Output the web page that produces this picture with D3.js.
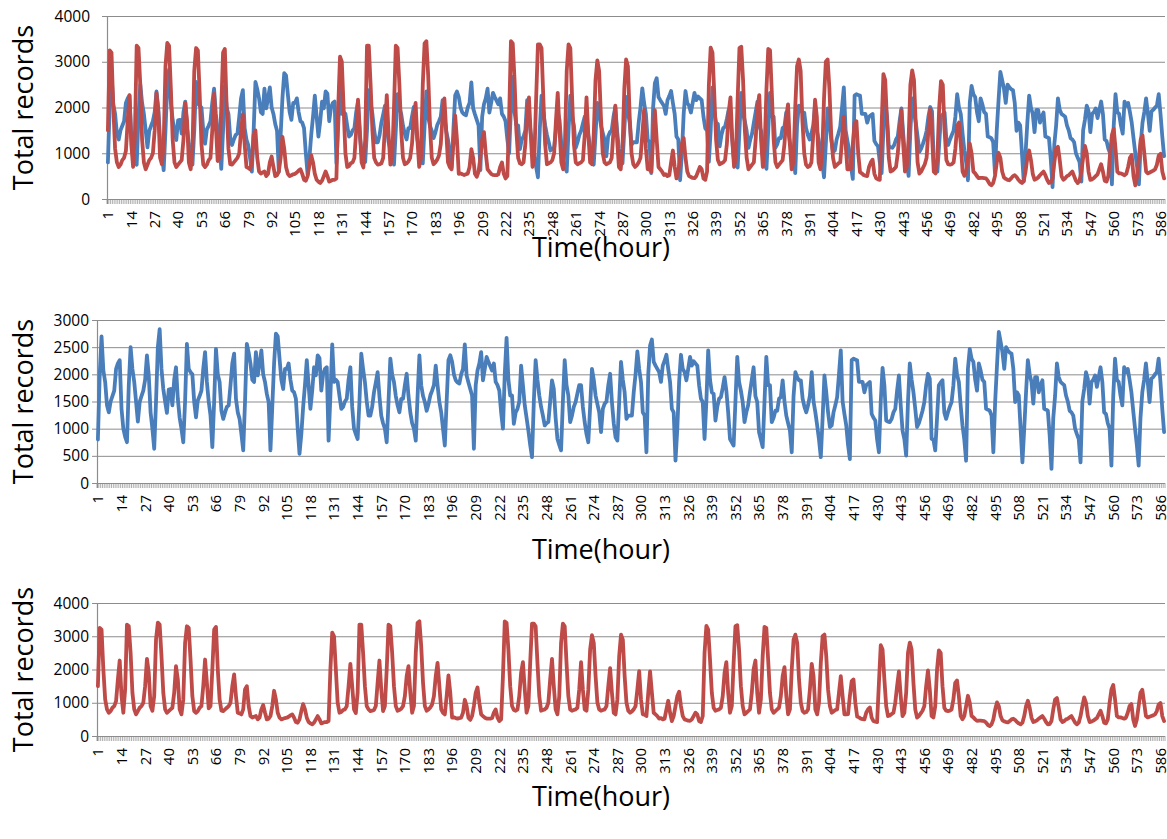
<!DOCTYPE html>
<html>
<head>
<meta charset="utf-8">
<script src="https://cdn.jsdelivr.net/npm/d3@7/dist/d3.min.js"></script>
<style>
body { margin: 0; background: #fff; }
text { font-family: "Open Sans", sans-serif; fill: #000; }
</style>
</head>
<body>
<div id="chart"></div>
<script>
var svgWidth = 1167;
var svgHeight = 839;

// hours 1..588 on the category axis, labelled every 13th
var hours = d3.range(1, 589);
var tickHours = d3.range(1, 587, 13);

var blueValues = [
  800,2000,2700,2070,1860,1430,1300,1500,1600,1700,
  2100,2200,2260,1365,1000,850,750,1800,2500,2100,
  1860,1500,1130,1490,1600,1700,1900,2350,1980,1300,
  1000,630,1500,2500,2830,2100,1730,1500,1290,1720,
  1730,1430,1900,2130,1550,1200,1000,750,1500,2560,
  2100,2040,2000,1500,1210,1520,1600,1700,2100,2410,
  1860,1500,1240,660,1500,2470,2000,1860,1330,1180,
  1300,1400,1430,1800,2200,2380,1550,1300,1180,900,
  600,1500,2560,2400,2200,1900,1860,2410,1980,2200,
  2440,2000,1860,1640,1490,600,1400,2200,2750,2700,
  2290,1900,1730,2100,2100,2200,1900,1700,1670,1550,
  1000,535,900,1400,1800,2260,1800,1365,1700,2130,
  1980,2350,2300,1700,2000,2100,2130,780,1600,2550,
  1860,1900,1860,1600,1365,1400,1500,1550,1900,2130,
  1400,1000,900,810,1500,2380,2100,1860,1500,1240,
  1240,1400,1670,1850,2040,1600,1240,1100,1000,750,
  1500,2290,2000,1860,1600,1430,1300,1550,1550,1800,
  2010,1600,1300,1100,1000,780,1600,2350,1800,1600,
  1490,1330,1450,1610,1700,1800,2160,1800,1490,1300,
  1000,690,1500,2260,2350,2230,2000,1890,1850,1830,
  2000,2100,2550,1980,1850,1730,1610,630,1800,2070,
  2200,2410,1890,2100,2320,2230,2150,2070,2200,1860,
  1800,1700,1300,1000,2000,2670,1900,1610,1610,1090,
  1300,1365,1500,2160,1800,1430,1200,965,700,475,
  1500,2260,1900,1610,1400,1240,1060,1100,1120,1500,
  1890,1730,1200,810,700,600,1500,2260,1800,1610,
  1120,1240,1400,1490,1650,1800,1800,1400,1120,900,
  750,1400,2100,1900,1610,1450,1300,935,1365,1460,
  1500,1800,2010,1490,1100,840,780,1500,2230,1900,
  1670,1180,1240,1240,1240,1670,2000,2420,2100,1860,
  1300,1240,565,2000,2530,2640,2230,2160,2100,2040,
  1860,2160,2250,2360,2100,1860,1365,1300,410,1000,
  1860,2360,2100,2040,1890,2100,2320,2160,2240,2200,
  2160,1800,1550,1490,810,1500,2440,1900,1670,1640,
  1150,1400,1550,1580,1750,1950,1700,1300,810,750,
  690,1500,2320,1860,1700,1490,1120,1300,1430,1670,
  1900,2130,1600,1490,935,800,660,1500,2320,1800,
  1800,1120,1200,1330,1330,1550,1580,1890,1500,1240,
  1100,965,565,1600,2040,1950,1890,1890,1550,1400,
  1300,1430,1610,2040,1500,1300,1060,800,475,1200,
  1980,1670,1300,1030,1060,1300,1430,1580,2000,2440,
  1500,1270,1060,700,440,2260,2290,2270,2260,1860,
  1860,1860,1670,1800,1830,1860,1270,1200,1150,800,
  565,1500,2120,1800,1150,1130,1120,1180,1300,1365,
  1700,1980,1430,965,810,505,1500,2200,1900,1670,
  1365,1030,1100,1210,1330,1490,1800,2010,1920,810,
  800,600,1200,1800,1850,1890,1300,1180,1300,1400,
  1490,1800,2290,2000,1860,1430,1060,800,410,2100,
  2470,2290,2230,1900,1700,2200,2070,1900,1860,1365,
  1350,1330,1240,565,1500,2160,2780,2600,2410,2100,
  2500,2440,2400,2380,2100,1490,1670,1610,1000,380,
  1000,1670,2260,2000,1860,1460,1950,1950,1670,1800,
  1890,1365,1350,1330,875,260,1200,1610,2200,1950,
  1860,1830,1800,1610,1500,1330,1300,1240,1000,900,
  810,380,1500,1730,2040,1920,1460,1860,1900,1980,
  1770,1950,2130,1860,1300,1270,1100,1000,320,1600,
  2290,1900,1860,1610,1430,2130,2040,2100,1900,1670,
  1330,1000,700,320,1200,1670,1900,2200,1860,1490,
  1920,1950,2000,2040,2290,1860,1365,935
];

var redValues = [
  1500,3250,3200,2000,1100,800,700,750,850,900,
  1050,1700,2270,1200,700,1400,3350,3300,2500,1300,
  800,650,750,850,900,1000,1500,2320,1900,900,
  760,1200,2900,3410,3350,2400,1300,800,700,750,
  800,850,1300,2100,1700,800,650,1100,2800,3300,
  3250,2300,1200,750,700,750,850,900,1500,2300,
  1600,830,900,2000,3200,3280,2000,1100,760,750,
  800,850,900,1000,1500,1850,1200,700,680,650,
  800,1400,1500,900,600,555,580,600,500,550,
  800,930,700,500,520,600,900,1360,1100,700,
  550,500,520,540,550,580,620,650,550,420,
  400,500,750,960,800,550,420,380,350,400,
  500,600,500,380,400,420,420,450,2000,3110,
  3000,2000,1000,700,720,780,800,900,1500,2170,
  1500,800,690,1300,3350,3350,2500,1500,900,800,
  750,760,780,900,1600,2270,1400,750,900,2000,
  3350,3300,2500,1500,900,760,780,820,900,1200,
  1800,2100,1300,700,900,2500,3400,3450,2700,1600,
  900,760,800,860,950,1200,1800,2200,1500,800,
  700,650,1200,1820,1300,550,560,540,525,540,
  555,700,1090,900,550,485,600,900,1300,1460,
  1000,650,600,550,525,520,520,540,700,800,
  550,450,500,1800,3450,3400,2600,1500,900,780,
  760,800,1200,1900,2220,1400,700,900,2200,3380,
  3380,3300,2200,1200,760,780,800,850,1000,1700,
  2320,1500,800,650,1200,2800,3380,3300,2200,1200,
  800,760,780,800,850,1400,2220,1400,800,760,
  1400,2600,3030,2800,1800,1000,800,760,780,800,
  900,1500,2040,1300,700,650,1100,2400,3050,2900,
  1800,1000,760,700,740,800,900,1400,1950,1100,
  650,640,600,1300,1940,1300,700,650,600,525,
  540,500,520,800,1060,700,450,600,900,1200,
  1330,900,600,500,480,460,455,500,600,700,
  650,450,420,600,2500,3310,3200,2300,1300,850,
  760,780,800,850,1200,1900,2220,1300,700,900,
  2200,3300,3330,2600,1500,900,650,700,750,800,
  1300,2000,2270,1300,700,1100,2400,3280,3250,2300,
  1300,800,700,750,800,850,1200,1800,2070,1200,
  650,800,2000,2900,3050,2800,1700,1000,750,700,
  720,800,1400,2170,1800,800,650,1000,2200,3000,
  3050,2400,1400,900,700,740,780,800,1300,1800,
  1200,650,650,660,1200,1650,1700,1000,585,560,
  525,510,500,700,800,860,550,450,430,420,
  1600,2730,2600,1700,900,600,620,660,700,1000,
  1500,1940,1200,600,700,1300,2500,2810,2600,1600,
  800,555,600,680,760,900,1500,1970,1400,600,
  560,900,2000,2575,2500,1500,850,760,750,760,
  800,1100,1600,1670,1200,600,505,600,900,1210,
  1000,600,560,500,455,460,460,455,450,400,
  330,300,350,500,800,1010,900,600,470,440,
  420,410,450,500,520,480,420,380,350,400,
  600,900,1060,850,550,420,440,470,520,560,
  600,520,420,350,360,450,800,1100,1140,850,
  500,420,450,500,520,560,600,500,400,350,
  400,600,900,1160,1000,600,420,430,460,500,
  540,650,760,600,400,380,500,1000,1400,1535,
  1100,600,560,560,540,520,550,700,900,960,
  500,300,500,900,1300,1390,1000,600,560,580,
  600,620,650,750,950,990,600,450
];

var blueColor = '#4a7ebb';
var redColor = '#be4b48';
var gridColor = '#8c8c8c';

var svg = d3.select('#chart')
    .append('svg')
    .attr('width', svgWidth)
    .attr('height', svgHeight);

// one panel: plot box, y range, and which series to draw
function drawPanel(p) {
    var g = svg.append('g');

    var x = d3.scaleBand()
        .domain(hours)
        .range([p.left, p.right]);
    var y = d3.scaleLinear()
        .domain([0, p.yMax])
        .range([p.bottom, p.top]);

    var yTicks = d3.range(0, p.yMax + 1, p.yStep);

    // horizontal gridlines + small outside ticks on the value axis
    g.selectAll('.grid')
        .data(yTicks.slice(1))
        .enter()
        .append('line')
        .attr('x1', p.left - 5)
        .attr('x2', p.right)
        .attr('y1', d => y(d) + 0.5)
        .attr('y2', d => y(d) + 0.5)
        .attr('stroke', gridColor)
        .attr('stroke-width', 1);

    g.selectAll('.ylab')
        .data(yTicks)
        .enter()
        .append('text')
        .attr('x', p.labelRight)
        .attr('y', d => y(d))
        .attr('dy', '0.36em')
        .attr('text-anchor', 'end')
        .attr('font-size', '15.5px')
        .text(d => d);

    // category ticks at every band edge
    var edges = hours.map(h => x(h)).concat([p.right]);
    g.selectAll('.xtick')
        .data(edges)
        .enter()
        .append('line')
        .attr('x1', d => d)
        .attr('x2', d => d)
        .attr('y1', p.bottom)
        .attr('y2', p.bottom + 5)
        .attr('stroke', '#9a9a9a')
        .attr('stroke-width', 0.8);

    // axis lines
    g.append('line')
        .attr('x1', p.left - 5).attr('x2', p.right)
        .attr('y1', p.bottom + 0.5).attr('y2', p.bottom + 0.5)
        .attr('stroke', gridColor)
        .attr('stroke-width', 1.2);
    g.append('line')
        .attr('x1', p.left + 0.5).attr('x2', p.left + 0.5)
        .attr('y1', p.top).attr('y2', p.bottom + 5)
        .attr('stroke', gridColor)
        .attr('stroke-width', 1.2);

    // rotated hour labels
    g.selectAll('.xlab')
        .data(tickHours)
        .enter()
        .append('text')
        .attr('transform', d => `translate(${x(d) + x.bandwidth() / 2}, ${p.bottom + 12}) rotate(-90)`)
        .attr('dy', '0.36em')
        .attr('text-anchor', 'end')
        .attr('font-size', '15px')
        .text(d => d);

    var line = d3.line()
        .x((d, i) => x(hours[i]) + x.bandwidth() / 2)
        .y(d => y(d));

    p.series.forEach(function (s) {
        g.append('path')
            .datum(s.values)
            .attr('d', line)
            .attr('fill', 'none')
            .attr('stroke', s.color)
            .attr('stroke-width', 3.8)
            .attr('stroke-linejoin', 'round')
            .attr('stroke-linecap', 'round');
    });

    // axis titles
    g.append('text')
        .attr('transform', `translate(33, ${(p.top + p.bottom) / 2}) rotate(-90)`)
        .attr('text-anchor', 'middle')
        .attr('font-size', '27px')
        .text('Total records');

    g.append('text')
        .attr('x', 601)
        .attr('y', p.titleY)
        .attr('text-anchor', 'middle')
        .attr('font-size', '27px')
        .text('Time(hour)');
}

drawPanel({
    left: 107, right: 1165, top: 16, bottom: 199,
    yMax: 4000, yStep: 1000, labelRight: 90, titleY: 257,
    series: [{ values: blueValues, color: blueColor }, { values: redValues, color: redColor }]
});

drawPanel({
    left: 97, right: 1165, top: 320, bottom: 483,
    yMax: 3000, yStep: 500, labelRight: 89, titleY: 559,
    series: [{ values: blueValues, color: blueColor }]
});

drawPanel({
    left: 97, right: 1165, top: 603, bottom: 736,
    yMax: 4000, yStep: 1000, labelRight: 89, titleY: 806,
    series: [{ values: redValues, color: redColor }]
});
</script>
</body>
</html>
